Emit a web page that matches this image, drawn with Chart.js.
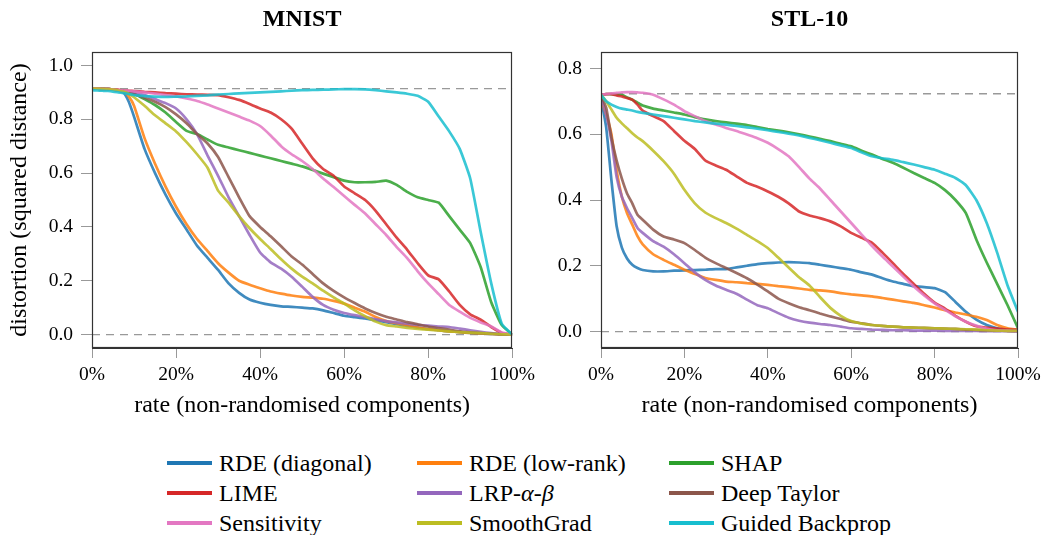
<!DOCTYPE html>
<html><head><meta charset="utf-8">
<script src="https://cdn.jsdelivr.net/npm/chart.js@4.4.1/dist/chart.umd.min.js"></script>
<style>
html,body{margin:0;padding:0;background:#fff;}
body{width:1047px;height:535px;position:relative;overflow:hidden;font-family:"Liberation Serif","DejaVu Serif",serif;}
canvas{position:absolute;top:0;}
.sw{position:absolute;width:45px;height:4px;}
.lab{position:absolute;font-size:24px;line-height:30px;white-space:nowrap;color:#000;}
</style></head><body>
<canvas id="c1" width="540" height="430" style="left:0px"></canvas>
<canvas id="c2" width="527" height="430" style="left:520px"></canvas>
<div id="legend"></div>
<script>
// ---------------- data ----------------
const rates = [0,1.25,2.5,3.75,5,6.25,7.5,8.75,10,
  12.5,15,17.5,20,22.5,25,27.5,30,
  32.5,35,37.5,40,42.5,45,47.5,50,
  52.5,55,57.5,60,62.5,65,67.5,70,
  72.5,75,77.5,80,82.5,85,87.5,90,
  92.5,95,97.5,100];
const xTicks = [0,20,40,60,80,100];
const mnistYTicks = [0,0.2,0.4,0.6,0.8,1.0];
const stlYTicks = [0,0.2,0.4,0.6,0.8];
const mnistReference = 0.914;
const stlReference = 0.723;

const methodLabels = ['RDE (diagonal)','RDE (low-rank)','SHAP','LIME','LRP-α-β','Deep Taylor','Sensitivity','SmoothGrad','Guided Backprop'];
const methodColors = ['#1f77b4','#ff7f0e','#2ca02c','#d62728','#9467bd','#8c564b','#e377c2','#bcbd22','#17becf'];

// MNIST
const mnistRdeDiag = [.914,.914,.913,.912,.911,.908,.900,.865,.810,
  .690,.600,.520,.450,.390,.330,.285,.240,
  .190,.155,.130,.118,.110,.105,.103,.100,
  .097,.090,.080,.070,.065,.060,.053,.046,
  .039,.032,.026,.020,.016,.012,.009,.006,
  .004,.002,.001,0];
const mnistRdeLowRank = [.914,.914,.913,.912,.911,.909,.905,.885,.850,
  .730,.635,.550,.475,.410,.355,.310,.265,
  .230,.200,.185,.172,.160,.152,.145,.140,
  .137,.133,.125,.115,.100,.085,.065,.050,
  .042,.035,.027,.020,.016,.012,.009,.006,
  .004,.002,.001,0];
const mnistShap = [.914,.914,.913,.912,.911,.908,.905,.900,.895,
  .875,.853,.825,.790,.757,.745,.725,.705,
  .695,.685,.675,.665,.655,.645,.635,.625,
  .612,.598,.585,.572,.566,.566,.567,.572,
  .556,.530,.510,.500,.490,.440,.390,.340,
  .250,.120,.035,0];
const mnistLime = [.914,.914,.913,.912,.911,.909,.907,.906,.905,
  .902,.900,.897,.895,.893,.892,.891,.890,
  .882,.872,.857,.840,.825,.800,.765,.710,
  .655,.615,.590,.550,.525,.500,.460,.410,
  .360,.315,.265,.220,.205,.160,.110,.075,
  .055,.028,.006,0];
const mnistLrp = [.914,.914,.913,.912,.910,.907,.904,.900,.897,
  .890,.875,.860,.840,.800,.745,.665,.590,
  .510,.440,.370,.305,.268,.245,.215,.178,
  .140,.110,.092,.080,.072,.065,.057,.050,
  .045,.040,.036,.033,.030,.028,.022,.016,
  .010,.005,.001,0];
const mnistDeepTaylor = [.914,.914,.913,.912,.910,.906,.900,.897,.893,
  .880,.865,.845,.818,.785,.745,.710,.660,
  .585,.510,.440,.400,.365,.328,.290,.260,
  .225,.190,.162,.138,.117,.097,.080,.066,
  .056,.046,.038,.030,.024,.018,.012,.008,
  .005,.003,.001,0];
const mnistSensitivity = [.914,.914,.913,.912,.911,.909,.907,.906,.904,
  .900,.895,.890,.885,.877,.868,.855,.840,
  .825,.810,.795,.775,.740,.700,.670,.645,
  .615,.580,.548,.515,.482,.450,.410,.370,
  .325,.284,.235,.190,.150,.110,.085,.062,
  .045,.030,.008,0];
const mnistSmoothGrad = [.914,.914,.913,.912,.910,.907,.903,.895,.882,
  .850,.815,.785,.755,.715,.670,.620,.535,
  .490,.440,.395,.355,.318,.280,.245,.215,
  .190,.163,.138,.115,.090,.068,.048,.035,
  .030,.025,.021,.018,.015,.012,.009,.007,
  .005,.003,.001,0];
const mnistGuidedBackprop = [.908,.907,.906,.905,.903,.900,.897,.894,.890,
  .886,.884,.883,.884,.885,.887,.889,.892,
  .894,.896,.898,.900,.902,.904,.906,.908,
  .909,.910,.911,.912,.912,.911,.908,.904,
  .900,.895,.887,.865,.810,.755,.690,.580,
  .380,.190,.040,0];

// STL-10
const stlRdeDiag = [.710,.620,.460,.320,.255,.222,.203,.193,.187,
  .183,.183,.185,.186,.187,.188,.190,.190,
  .195,.200,.205,.208,.210,.211,.210,.208,
  .203,.198,.193,.188,.180,.173,.162,.152,
  .145,.138,.135,.132,.120,.090,.060,.036,
  .020,.010,.006,.005];
const stlRdeLowRank = [.705,.660,.600,.490,.410,.360,.325,.290,.265,
  .235,.218,.203,.188,.175,.163,.157,.152,
  .150,.147,.145,.142,.138,.135,.131,.127,
  .125,.122,.117,.113,.110,.107,.102,.097,
  .092,.087,.080,.073,.065,.058,.052,.045,
  .035,.020,.010,.005];
const stlShap = [.720,.722,.722,.721,.720,.712,.705,.696,.687,
  .678,.672,.666,.660,.652,.645,.640,.636,
  .632,.628,.622,.616,.611,.606,.600,.593,
  .586,.579,.571,.563,.550,.538,.525,.513,
  .498,.482,.467,.452,.430,.400,.360,.280,
  .210,.145,.080,.010];
const stlLime = [.720,.722,.722,.718,.715,.710,.705,.690,.672,
  .655,.640,.610,.580,.555,.520,.505,.492,
  .472,.452,.440,.426,.410,.390,.365,.353,
  .345,.335,.320,.300,.285,.270,.240,.208,
  .175,.145,.115,.088,.070,.048,.030,.016,
  .012,.009,.006,.005];
const stlLrp = [.715,.660,.580,.470,.410,.375,.345,.315,.300,
  .275,.258,.235,.208,.180,.157,.140,.127,
  .115,.097,.080,.071,.056,.042,.033,.027,
  .023,.020,.015,.010,.008,.006,.005,.004,
  .004,.003,.003,.003,.002,.002,.002,.002,
  .001,.001,.001,0];
const stlDeepTaylor = [.720,.680,.590,.520,.465,.420,.390,.355,.340,
  .310,.289,.280,.269,.248,.225,.208,.193,
  .178,.162,.143,.122,.100,.086,.074,.065,
  .055,.046,.038,.030,.025,.020,.017,.015,
  .013,.012,.011,.010,.009,.008,.006,.005,
  .004,.003,.002,.002];
const stlSensitivity = [.720,.722,.724,.726,.727,.728,.728,.727,.726,
  .720,.706,.690,.670,.655,.640,.630,.619,
  .610,.599,.588,.574,.555,.533,.500,.465,
  .435,.400,.365,.330,.295,.260,.228,.198,
  .167,.137,.110,.086,.066,.046,.030,.018,
  .008,.004,.003,.002];
const stlSmoothGrad = [.720,.700,.675,.650,.633,.618,.603,.590,.579,
  .550,.518,.480,.431,.390,.362,.345,.330,
  .313,.294,.275,.254,.225,.195,.165,.140,
  .105,.072,.048,.032,.024,.020,.017,.015,
  .013,.012,.011,.010,.009,.008,.007,.006,
  .004,.003,.002,.002];
const stlGuidedBackprop = [.720,.700,.690,.683,.678,.675,.672,.668,.665,
  .660,.655,.650,.645,.640,.636,.632,.629,
  .625,.621,.617,.612,.607,.602,.596,.589,
  .582,.574,.566,.558,.545,.533,.527,.522,
  .515,.508,.500,.492,.480,.467,.445,.400,
  .330,.240,.140,.060];

const mnistSeries = [mnistRdeDiag,mnistRdeLowRank,mnistShap,mnistLime,mnistLrp,mnistDeepTaylor,mnistSensitivity,mnistSmoothGrad,mnistGuidedBackprop];
const stlSeries = [stlRdeDiag,stlRdeLowRank,stlShap,stlLime,stlLrp,stlDeepTaylor,stlSensitivity,stlSmoothGrad,stlGuidedBackprop];

// ---------------- drawing ----------------
const SERIF = '"Liberation Serif","DejaVu Serif","Times New Roman",serif';
Chart.defaults.font.family = SERIF;
Chart.defaults.color = '#000';

function hexA(hex, a){
  const n = parseInt(hex.slice(1),16);
  return `rgba(${(n>>16)&255},${(n>>8)&255},${n&255},${a})`;
}

const panelTitle = {
  id:'panelTitle',
  afterDraw(chart, args, opts){
    const {ctx, chartArea} = chart;
    ctx.save();
    ctx.font = `bold 24px ${SERIF}`;
    ctx.fillStyle = '#000';
    ctx.textAlign = 'center';
    ctx.textBaseline = 'middle';
    ctx.fillText(opts.text, (chartArea.left+chartArea.right)/2, opts.y);
    ctx.restore();
  }
};
const frame = {
  id:'frame',
  afterDatasetsDraw(chart){
    const {ctx, chartArea:a} = chart;
    ctx.save();
    ctx.strokeStyle = '#333';
    ctx.lineWidth = 1.2;
    const l = Math.round(a.left)+0.5, t = Math.round(a.top)+0.5;
    const r = Math.round(a.right)-0.5, b = Math.round(a.bottom)-0.5;
    ctx.strokeRect(l, t, r-l, b-t);
    ctx.restore();
  }
};

function makeChart(id, title, series, yMin, yMax, yTicks, ref, yTitle, yAxisWidth, padRight){
  const datasets = series.map((s,i)=>({
    label: methodLabels[i],
    data: rates.map((r,k)=>({x:r, y:s[k]})),
    borderColor: hexA(methodColors[i], 0.85),
    borderWidth: 2.7,
    pointRadius: 0,
    fill: false,
    tension: 0.15,
    order: 20 - i
  }));
  [ref, 0].forEach(v=>datasets.push({
    label: 'ref',
    data: [{x:0,y:v},{x:100,y:v}],
    borderColor: '#999',
    borderWidth: 1.3,
    borderDash: [8,6],
    pointRadius: 0,
    fill: false,
    order: 100
  }));
  return new Chart(document.getElementById(id), {
    type: 'line',
    data: {datasets},
    plugins: [panelTitle, frame],
    options: {
      responsive: false,
      animation: false,
      layout: {padding: {top: 52, right: padRight, left: 0, bottom: 0}},
      plugins: {
        legend: {display:false},
        tooltip: {enabled:false},
        panelTitle: {text: title, y: 20}
      },
      scales: {
        x: {
          type: 'linear', min: 0, max: 100,
          afterBuildTicks: a => { a.ticks = xTicks.map(v=>({value:v})); },
          afterFit: a => { a.height = 82; },
          ticks: {callback: v => v + '%', font: {size: 19.5}, color: '#000', padding: 5, maxRotation: 0},
          grid: {drawOnChartArea: false, drawTicks: true, tickLength: 10, color: '#999'},
          border: {display: true, color: '#333'},
          title: {display: true, text: 'rate (non-randomised components)', font: {size: 24}, color: '#000', padding: {top: 0, bottom: 9.6}}
        },
        y: {
          min: yMin, max: yMax,
          afterBuildTicks: a => { a.ticks = yTicks.map(v=>({value:v})); },
          afterFit: a => { a.width = yAxisWidth; },
          ticks: {callback: v => Number(v).toFixed(1), font: {size: 19.5}, color: '#000', padding: 8},
          grid: {drawOnChartArea: false, drawTicks: true, tickLength: 11, color: '#999'},
          border: {display: true, color: '#333'},
          title: {display: !!yTitle, text: yTitle || '', font: {size: 24}, color: '#000', padding: {top: 5.6, bottom: 0}}
        }
      }
    }
  });
}

makeChart('c1', 'MNIST', mnistSeries, -0.05, 1.05, mnistYTicks, mnistReference, 'distortion (squared distance)', 92, 27);
makeChart('c2', 'STL-10', stlSeries, -0.05, 0.85, stlYTicks, stlReference, null, 81, 29);

// ---------------- legend (HTML) ----------------
const legendCols = [167, 417, 669];
const legendRows = [463, 493, 523];
const legend = document.getElementById('legend');
methodLabels.forEach((lab, i)=>{
  const row = Math.floor(i/3), col = i%3;
  const sw = document.createElement('div');
  sw.className = 'sw';
  sw.style.left = legendCols[col] + 'px';
  sw.style.top = (legendRows[row] - 2) + 'px';
  sw.style.background = methodColors[i];
  legend.appendChild(sw);
  const t = document.createElement('div');
  t.className = 'lab';
  t.style.left = (legendCols[col] + 52) + 'px';
  t.style.top = (legendRows[row] - 15.2) + 'px';
  t.innerHTML = lab.replace('α','<i>α</i>').replace('β','<i>β</i>');
  legend.appendChild(t);
});
</script>
</body></html>
